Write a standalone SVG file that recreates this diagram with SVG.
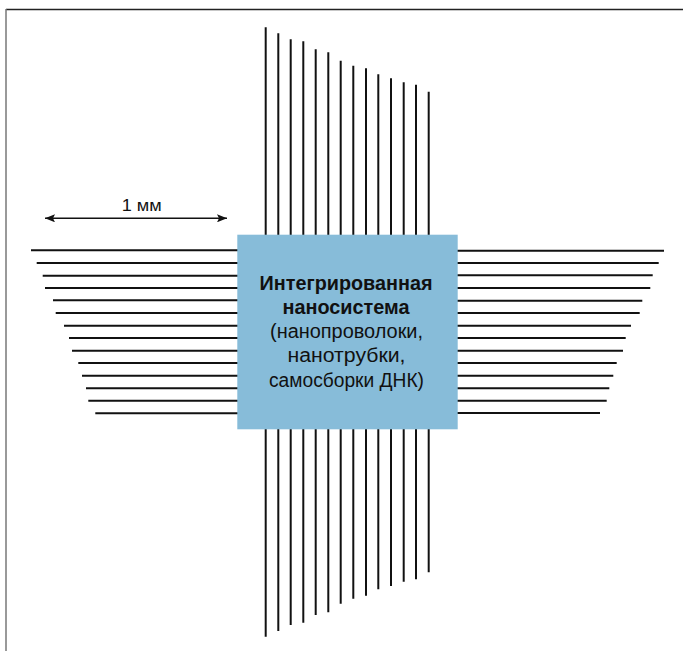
<svg xmlns="http://www.w3.org/2000/svg" width="683" height="651" viewBox="0 0 683 651">
<style>
.w{stroke:#111;stroke-width:2;fill:none}
.t{font-family:"Liberation Sans",Arial,sans-serif;fill:#111;text-anchor:middle}
</style>
<defs>
<marker id="ah" viewBox="0 0 10 8" refX="10" refY="4" markerWidth="10" markerHeight="8" markerUnits="userSpaceOnUse" orient="auto-start-reverse">
<path d="M0,0 L10,4 L0,8 L2,4 Z" fill="#111"/>
</marker>
</defs>
<rect width="683" height="651" fill="#fff"/>
<g id="frame">
<line x1="6" y1="9.5" x2="683" y2="9.5" stroke="#222" stroke-width="1.5"/>
<line x1="6" y1="9" x2="6" y2="651" stroke="#777" stroke-width="1.5"/>
</g>
<g id="wires">
<g id="vertical-wires">
<line class="w" x1="265.7" y1="27.3" x2="265.7" y2="636.7"/>
<line class="w" x1="278.3" y1="33.3" x2="278.3" y2="631"/>
<line class="w" x1="290.7" y1="39.3" x2="290.7" y2="625"/>
<line class="w" x1="303.3" y1="41.3" x2="303.3" y2="622.7"/>
<line class="w" x1="315.7" y1="49.3" x2="315.7" y2="615"/>
<line class="w" x1="328.3" y1="52.3" x2="328.3" y2="612.3"/>
<line class="w" x1="340.7" y1="60.7" x2="340.7" y2="603.7"/>
<line class="w" x1="353.3" y1="65.7" x2="353.3" y2="598.7"/>
<line class="w" x1="366" y1="68.3" x2="366" y2="595.7"/>
<line class="w" x1="378.3" y1="74.3" x2="378.3" y2="589.3"/>
<line class="w" x1="391" y1="78.3" x2="391" y2="586"/>
<line class="w" x1="403.7" y1="82.3" x2="403.7" y2="581.7"/>
<line class="w" x1="416" y1="84.7" x2="416" y2="579.3"/>
<line class="w" x1="428.7" y1="91.7" x2="428.7" y2="572.3"/>
</g>
<g id="left-wires">
<line class="w" x1="31" y1="250.3" x2="240" y2="250.3"/>
<line class="w" x1="36.7" y1="263" x2="240" y2="263"/>
<line class="w" x1="42.7" y1="275.7" x2="240" y2="275.7"/>
<line class="w" x1="45" y1="288" x2="240" y2="288"/>
<line class="w" x1="53" y1="300.3" x2="240" y2="300.3"/>
<line class="w" x1="55.7" y1="313" x2="240" y2="313"/>
<line class="w" x1="64" y1="325.7" x2="240" y2="325.7"/>
<line class="w" x1="69" y1="338" x2="240" y2="338"/>
<line class="w" x1="72" y1="350.7" x2="240" y2="350.7"/>
<line class="w" x1="78.3" y1="363" x2="240" y2="363"/>
<line class="w" x1="82" y1="375.7" x2="240" y2="375.7"/>
<line class="w" x1="86" y1="388.3" x2="240" y2="388.3"/>
<line class="w" x1="88.3" y1="400.7" x2="240" y2="400.7"/>
<line class="w" x1="95.3" y1="413.3" x2="240" y2="413.3"/>
</g>
<g id="right-wires">
<line class="w" x1="455" y1="250.7" x2="664" y2="250.7"/>
<line class="w" x1="455" y1="263" x2="658.7" y2="263"/>
<line class="w" x1="455" y1="275.3" x2="652.7" y2="275.3"/>
<line class="w" x1="455" y1="288" x2="650.3" y2="288"/>
<line class="w" x1="455" y1="300.7" x2="642.3" y2="300.7"/>
<line class="w" x1="455" y1="313" x2="639.7" y2="313"/>
<line class="w" x1="455" y1="325.7" x2="631" y2="325.7"/>
<line class="w" x1="455" y1="338" x2="625.7" y2="338"/>
<line class="w" x1="455" y1="350.7" x2="623" y2="350.7"/>
<line class="w" x1="455" y1="363" x2="616.7" y2="363"/>
<line class="w" x1="455" y1="375.7" x2="613.3" y2="375.7"/>
<line class="w" x1="455" y1="388.3" x2="609.3" y2="388.3"/>
<line class="w" x1="455" y1="400.7" x2="606.7" y2="400.7"/>
<line class="w" x1="455" y1="413" x2="600" y2="413"/>
</g>
</g>
<g id="nanosystem">
<rect x="237.3" y="234.7" width="220.4" height="194.6" fill="#87bcd9"/>
<text class="t" x="346" y="290" font-size="21" font-weight="bold" textLength="173" lengthAdjust="spacingAndGlyphs">Интегрированная</text>
<text class="t" x="346" y="313.5" font-size="21" font-weight="bold" textLength="127" lengthAdjust="spacingAndGlyphs">наносистема</text>
<text class="t" x="346.5" y="338" font-size="20" textLength="153" lengthAdjust="spacingAndGlyphs">(нанопроволоки,</text>
<text class="t" x="346.5" y="362" font-size="20" textLength="118" lengthAdjust="spacingAndGlyphs">нанотрубки,</text>
<text class="t" x="346.5" y="386.5" font-size="20" textLength="155" lengthAdjust="spacingAndGlyphs">самосборки ДНК)</text>
</g>
<g id="scale">
<line x1="45" y1="218.3" x2="227" y2="218.3" stroke="#111" stroke-width="1.5" marker-start="url(#ah)" marker-end="url(#ah)"/>
<text class="t" x="141.7" y="211" font-size="17" textLength="40" lengthAdjust="spacingAndGlyphs">1 мм</text>
</g>
</svg>
